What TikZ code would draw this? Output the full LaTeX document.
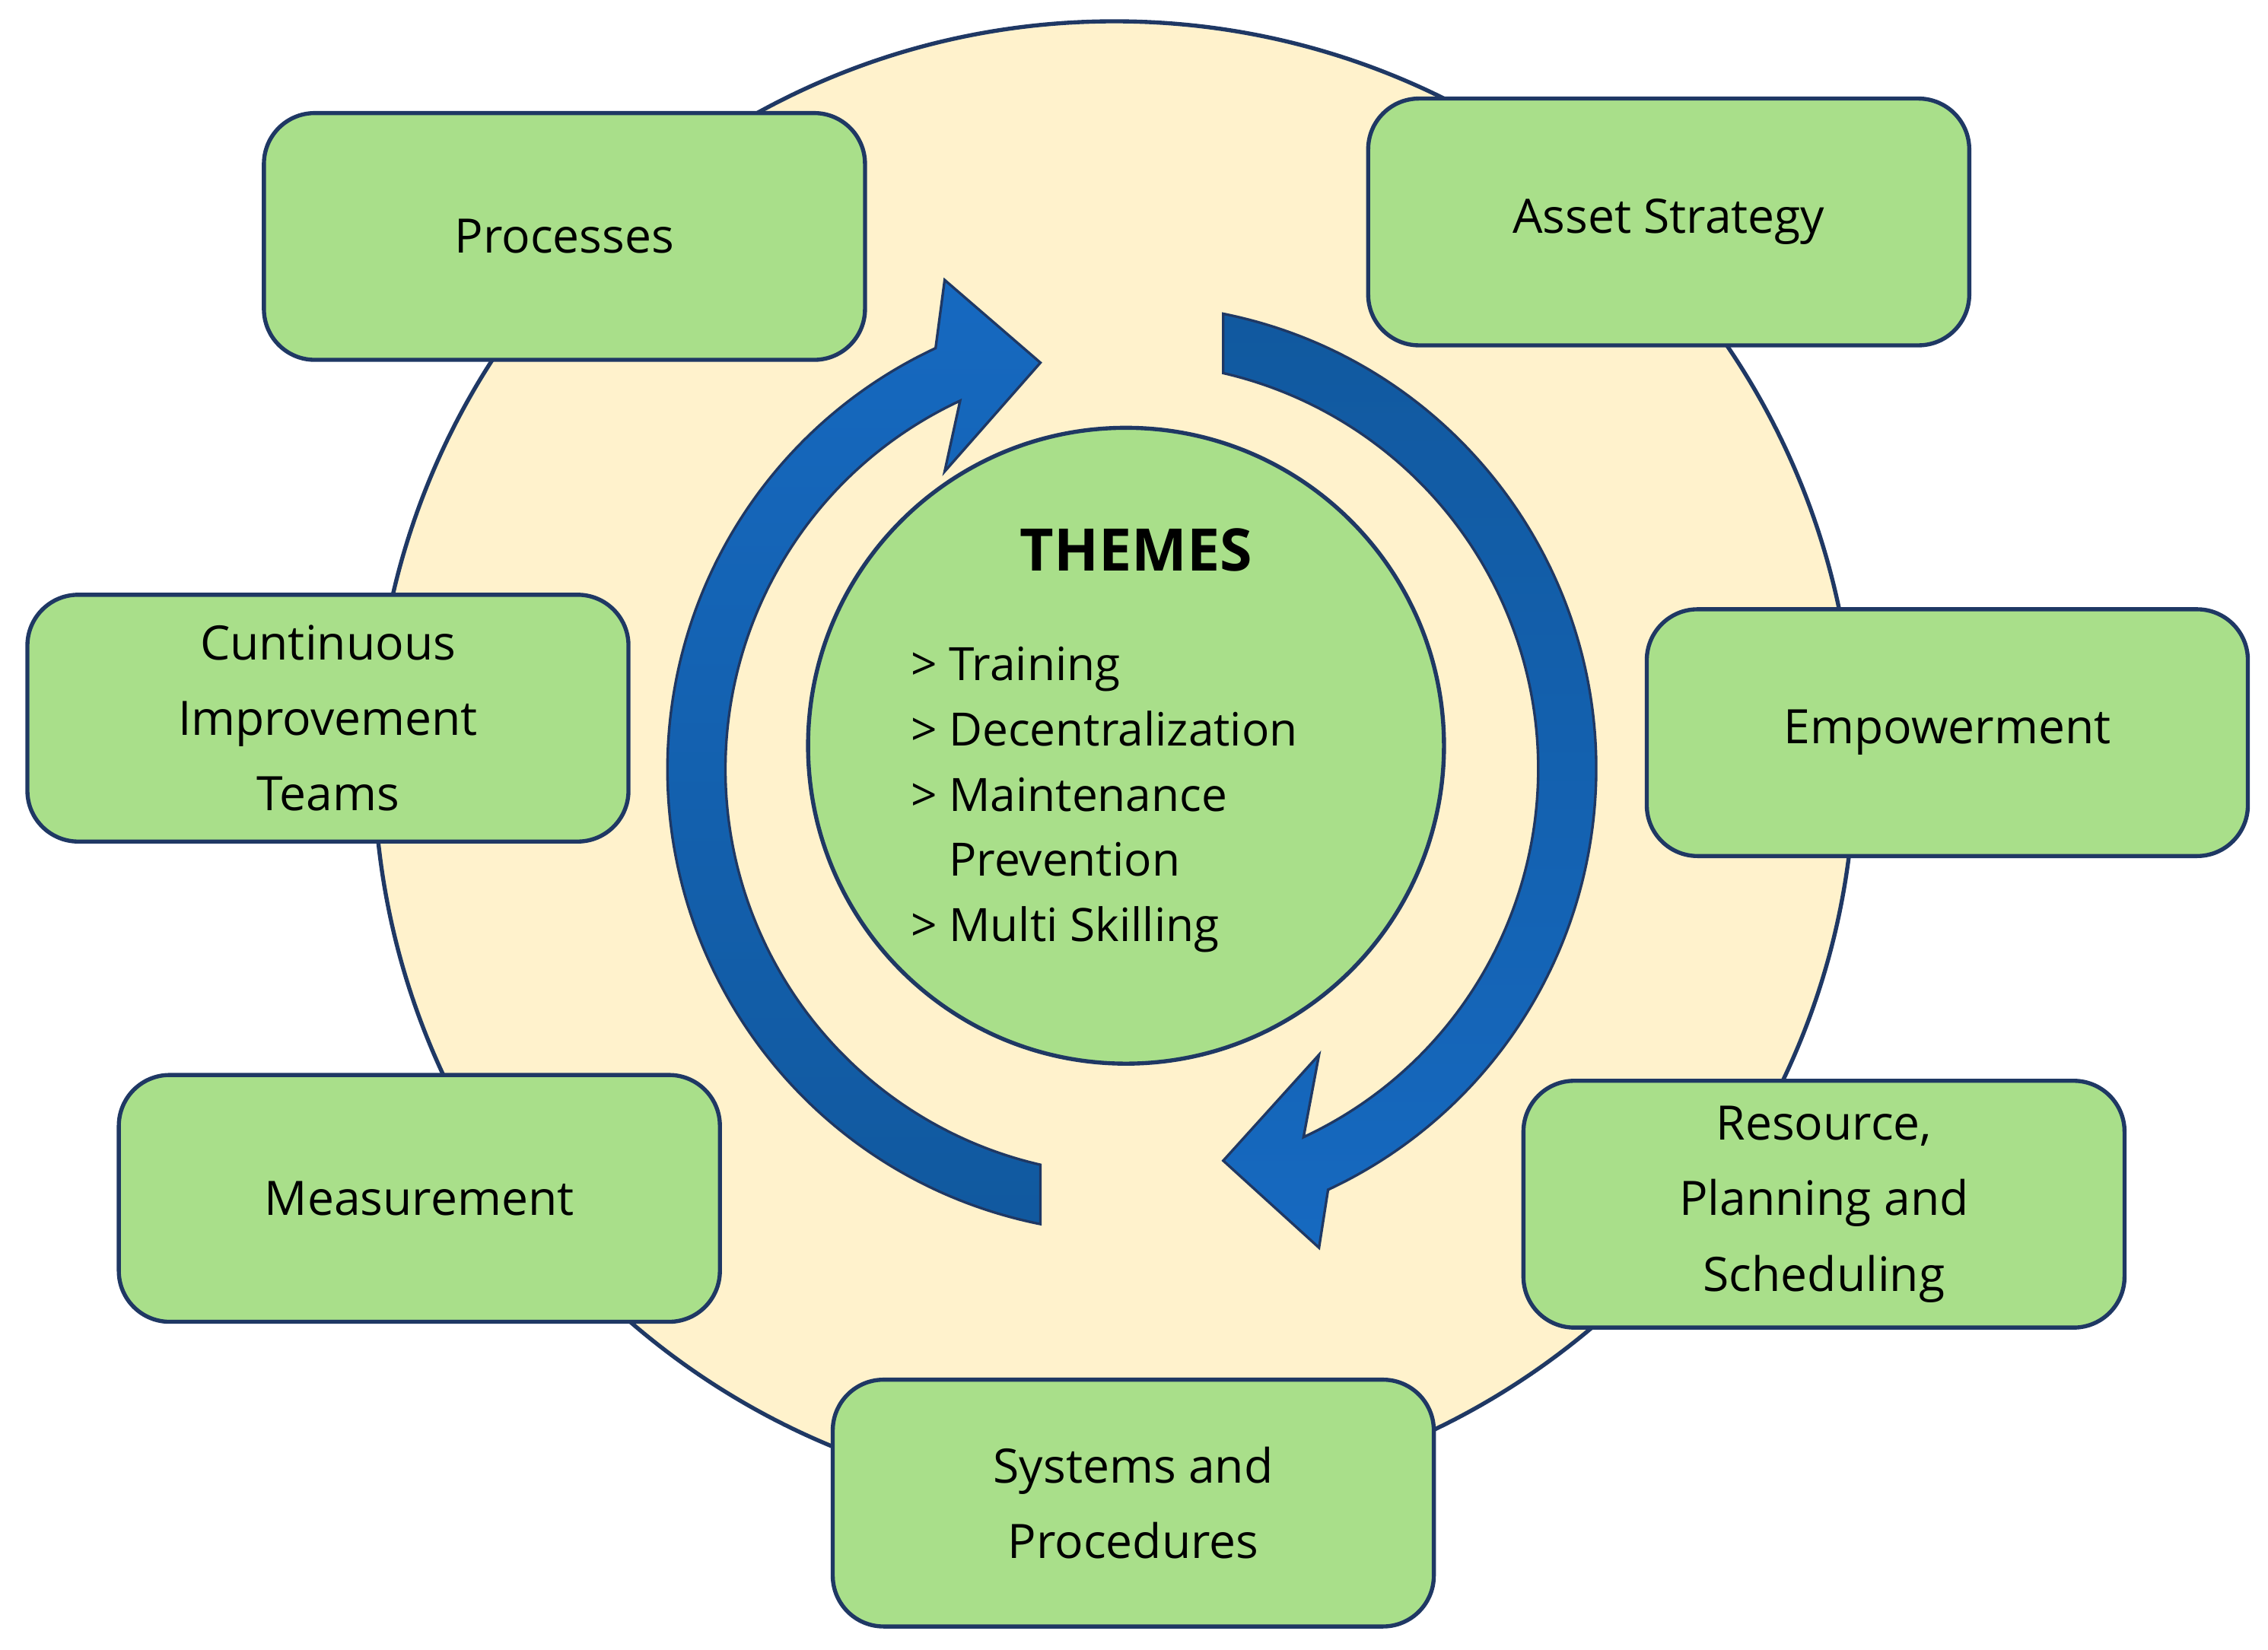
\documentclass[tikz,border=0pt]{standalone}
\usepackage{fontspec}
\setmainfont{Open Sans}
\usetikzlibrary{calc}
\begin{document}
\begin{tikzpicture}[x=0.01cm,y=0.01cm,
 box/.style={draw=navy,line width=0.8pt,fill=boxg,rounded corners=0.35cm,minimum width=4.14cm,minimum height=1.70cm,align=center,font=\fontsize{9.3}{14.8}\selectfont},
 arr/.style={fill=arrb,draw=navy,line width=0.5pt}]
\definecolor{navy}{HTML}{1F3864}
\definecolor{boxg}{HTML}{A9DF8A}
\definecolor{cream}{HTML}{FFF2CC}
\definecolor{arrb}{HTML}{1669C0}
\definecolor{arrd}{HTML}{11599F}
\useasboundingbox (0,0) rectangle (1563,1137);
\node[circle,draw=navy,line width=0.8pt,fill=cream,minimum size=10.2cm] (big) at (768,612) {};
\node[box] (p) at (389,974) {Processes};
\node[box] (a) at (1150,984) {Asset Strategy};
\node[box] (c) at (226,642) {Cuntinuous\\Improvement\\Teams};
\node[box] (e) at (1342,632) {Empowerment};
\node[box] (m) at (289,311) {Measurement};
\node[box] (r) at (1257,307) {Resource,\\Planning and\\Scheduling};
\node[box] (s) at (781,101) {Systems and\\Procedures};
\coordinate (C) at (780,607);
\path[arr,top color=arrb,bottom color=arrd] ($(C)+(258.65:320)$) arc[start angle=258.65,end angle=115,radius=320]
 -- (651,944) -- (717,887) -- (651,812) -- ($(C)+(115:280)$) arc[start angle=115,end angle=257,radius=280] -- cycle;
\path[arr,top color=arrd,bottom color=arrb] ($(C)+(78.65:320)$) arc[start angle=78.65,end angle=-65,radius=320]
 -- (909,277) -- (843,337) -- (909,410) -- ($(C)+(-65:280)$) arc[start angle=-65,end angle=77,radius=280] -- cycle;
\node[circle,draw=navy,line width=0.8pt,fill=boxg,minimum size=4.38cm] (t) at (776,623) {};
\node[font=\fontsize{11.5}{14}\selectfont\bfseries] (th) at (783,758) {THEMES};
\node[anchor=north west,align=left,font=\fontsize{9}{12.8}\selectfont,inner sep=0pt] (l) at (627,692)
 {> Training\\> Decentralization\\> Maintenance\\\hphantom{> }Prevention\\> Multi Skilling};
\end{tikzpicture}
\end{document}
